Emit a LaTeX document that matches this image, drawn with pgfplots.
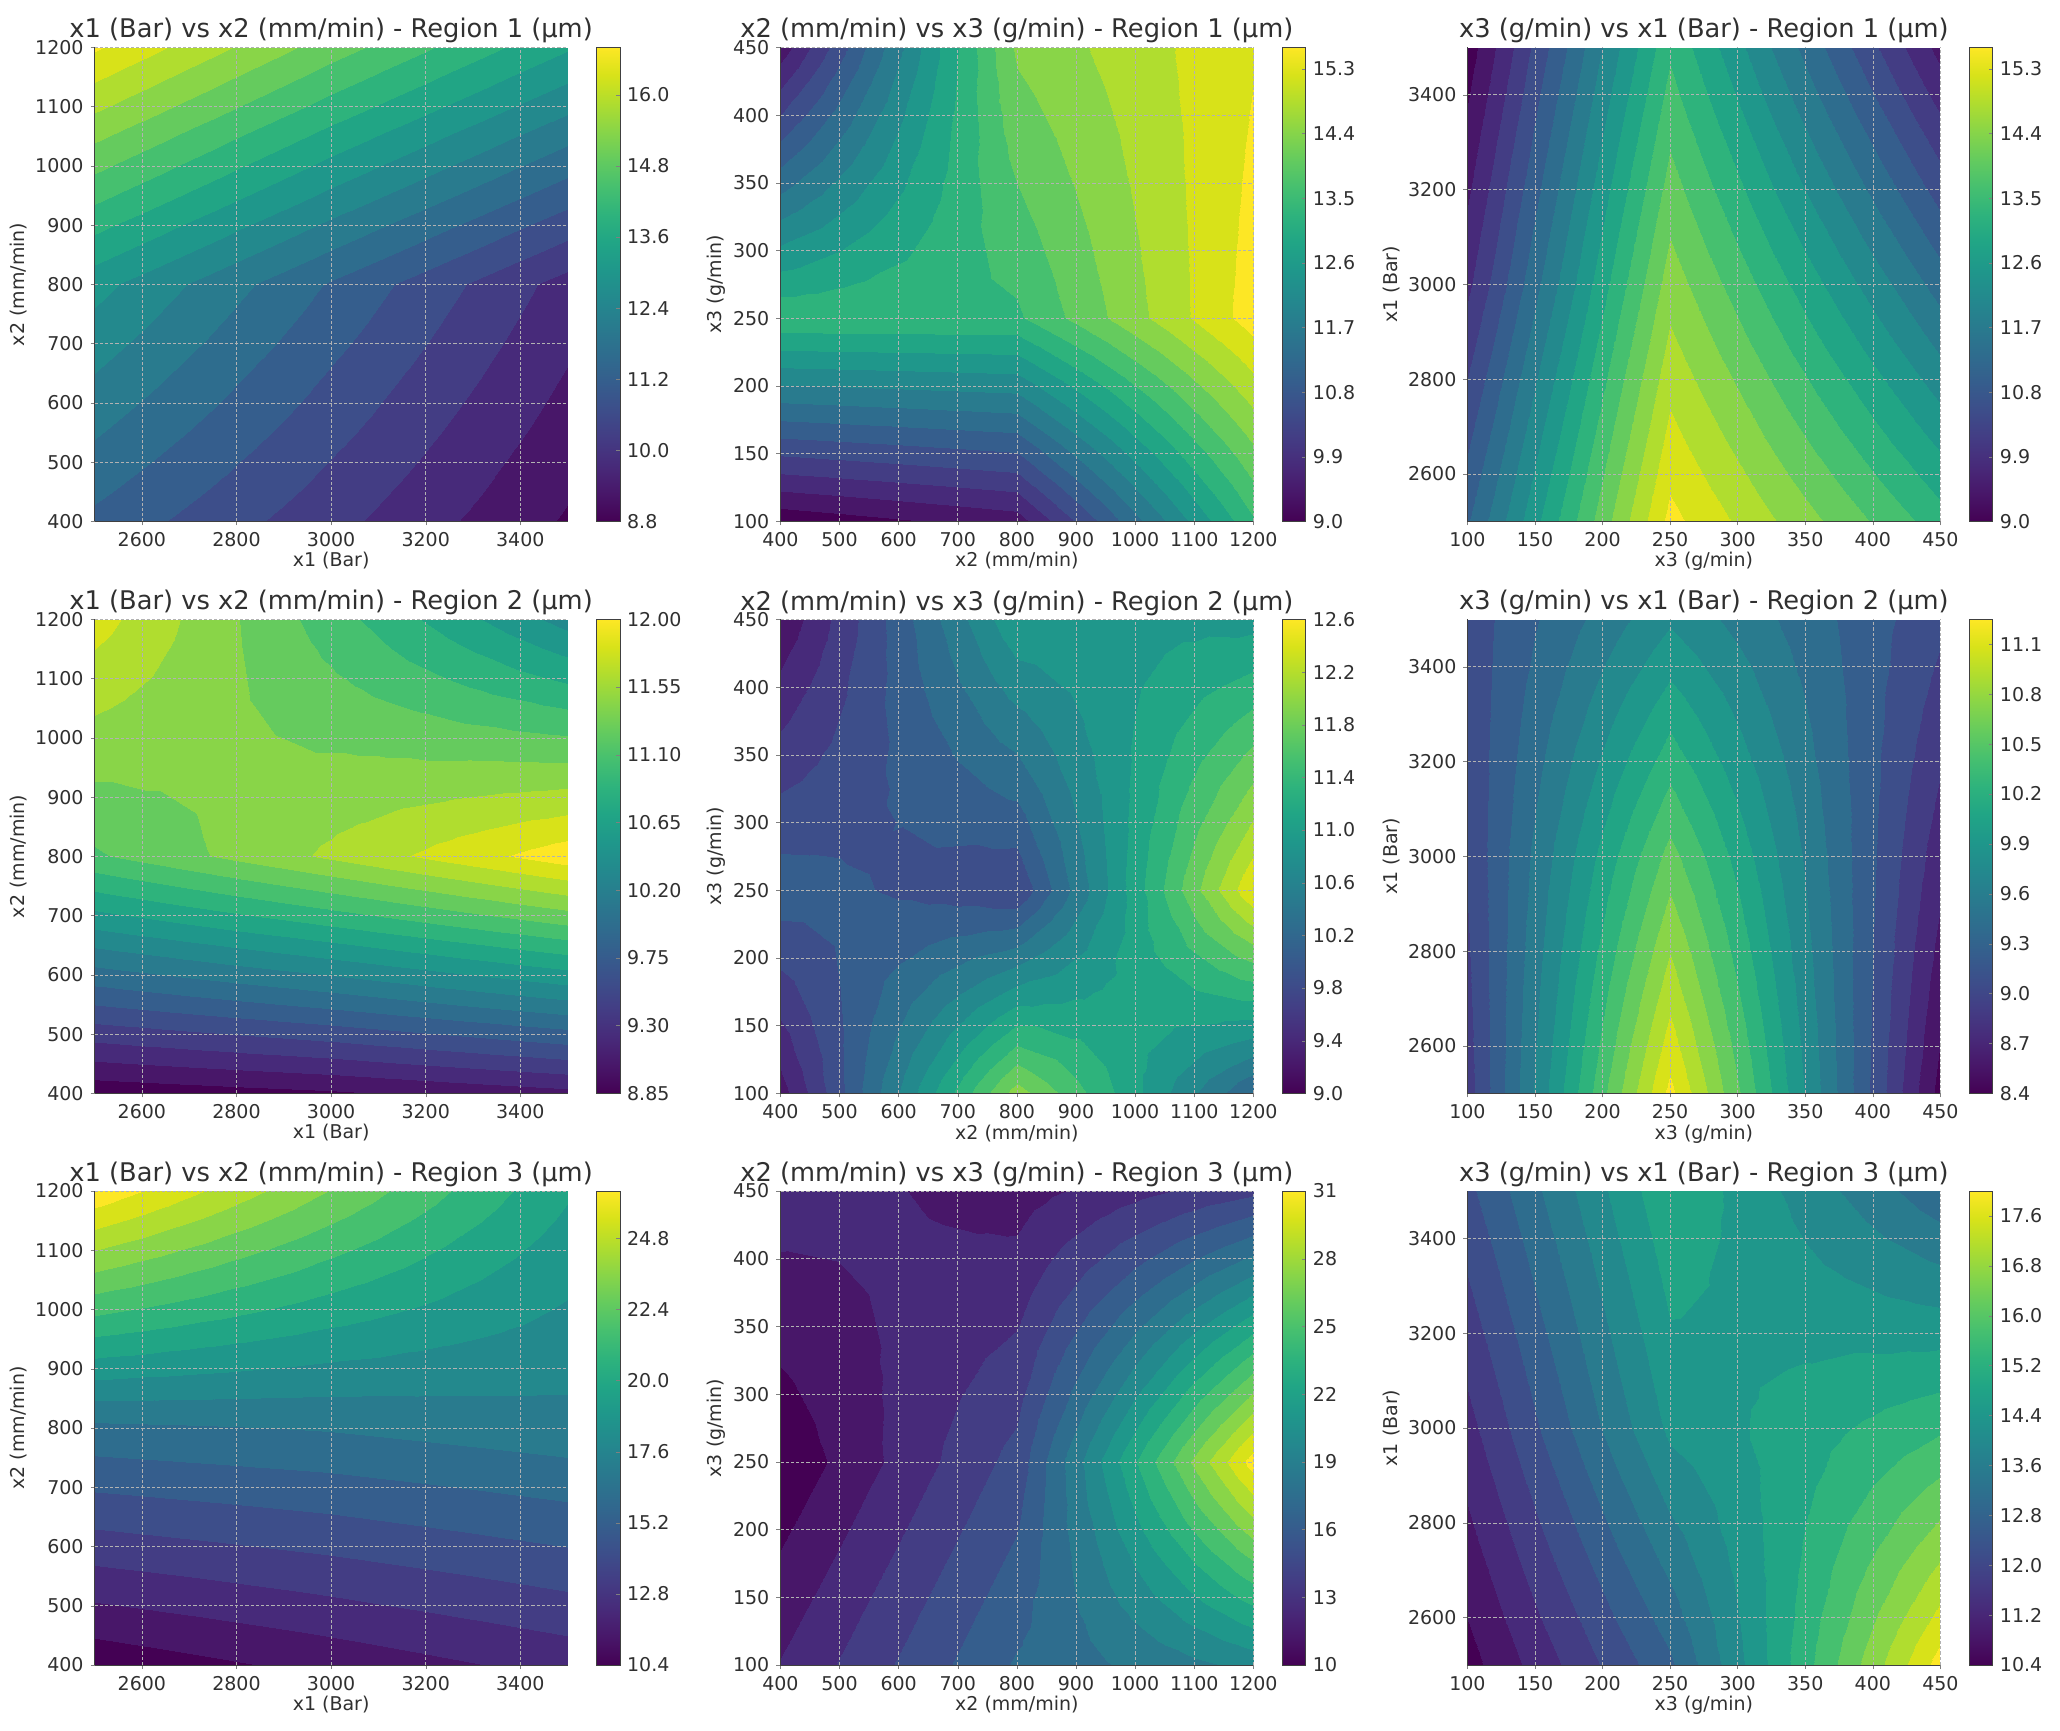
\documentclass[border=0pt]{standalone}
\usepackage{fontspec}
\setmainfont{DejaVu Sans}
\usepackage{pgfplots}
\usepackage{pgfplotstable}
\usepgfplotslibrary{patchplots}
\pgfplotsset{compat=1.18}
\definecolor{txt}{HTML}{303030}
% 3x3 response grids: x y z
\pgfplotstableread{
x y z
2500 400 11.35
3000 400 10.28
3500 400 9.19
2500 800 12.96
3000 800 11.42
3500 800 9.95
2500 1200 16.42
3000 1200 14.8
3500 1200 13.3
}\rAa
\pgfplotstableread{
x y z
400 100 9.1
800 100 9.55
1200 100 13.35
400 250 13.33
800 250 13.34
1200 250 15.42
400 450 9.5
800 450 14.2
1200 450 15.2
}\rAb
\pgfplotstableread{
x y z
100 2500 11.15
250 2500 15.35
450 2500 13.2
100 3000 10.0
250 3000 14.33
450 3000 11.4
100 3500 9.15
250 3500 13.33
450 3500 9.6
}\rAc
\pgfplotstableread{
x y z
2500 400 8.9
3000 400 9.0
3500 400 9.15
2500 800 11.1
3000 800 11.51
3500 800 11.93
2500 1200 11.73
3000 1200 11.03
3500 1200 10.35
}\rBa
\pgfplotstableread{
x y z
400 100 9.3
800 100 11.9
1200 100 10.2
400 250 10.12
800 250 9.82
1200 250 12.38
400 450 9.23
800 450 10.97
1200 450 10.92
}\rBb
\pgfplotstableread{
x y z
100 2500 8.95
250 2500 11.14
450 2500 8.5
100 3000 9.05
250 3000 10.52
450 3000 8.78
100 3500 9.1
250 3500 9.8
450 3500 9.07
}\rBc
\pgfplotstableread{
x y z
2500 400 10.65
3000 400 11.58
3500 400 12.5
2500 800 16.4
3000 800 16.7
3500 800 17.2
2500 1200 26.2
3000 1200 22.8
3500 1200 19.4
}\rCa
\pgfplotstableread{
x y z
400 100 12.4
800 100 17.15
1200 100 19.7
400 250 10.2
800 250 15.1
1200 250 30.4
400 450 12.95
800 450 11.8
1200 450 14.4
}\rCb
\pgfplotstableread{
x y z
100 2500 10.65
250 2500 12.85
450 2500 17.77
100 3000 11.52
250 3000 14.3
450 3000 15.4
100 3500 12.4
250 3500 15.0
450 3500 13.05
}\rCc

\pgfplotsset{
  table/row sep=\\,
  xone/.style={xmin=2500,xmax=3500,xtick={2600,2800,3000,3200,3400},xlabel={x1 (Bar)}},
  xtwo/.style={xmin=400,xmax=1200,xtick={400,500,...,1200},xlabel={x2 (mm/min)}},
  xthree/.style={xmin=100,xmax=450,xtick={100,150,...,450},xlabel={x3 (g/min)}},
  yone/.style={ymin=2500,ymax=3500,ytick={2600,2800,3000,3200,3400},ylabel={x1 (Bar)}},
  ytwo/.style={ymin=400,ymax=1200,ytick={400,500,...,1200},ylabel={x2 (mm/min)}},
  ythree/.style={ymin=100,ymax=450,ytick={100,150,...,450},ylabel={x3 (g/min)}},
  panel/.style={
    scale only axis,width=236.5pt,height=237pt,
    anchor=south west,view={0}{90},axis on top,
    colormap name=viridis,
    title style={font=\fontsize{12.85}{13}\selectfont,text=txt,yshift=-7.5pt},
    label style={font=\fontsize{9.5}{10}\selectfont,text=txt},
    xlabel style={yshift=4pt},ylabel style={yshift=-3pt},
    tick label style={font=\fontsize{9.5}{10}\selectfont,text=txt},
    /pgf/number format/assume math mode=true,
    /pgf/number format/set thousands separator={},
    tick align=outside,major tick length=2pt,
    axis lines*=left,
    grid=major,grid style={dash pattern=on 1.6pt off 1pt,gray!60,line width=0.3pt},
    axis line style={line width=0.5pt,black!75},
    colorbar,
  },
}
% #1 position, #2 axis styles, #3 title, #4 table, #5 levels, #6 min, #7 max, #8 colorbar ticks, #9 decimals
\newcommand\panel[9]{%
\begin{axis}[panel,at={(#1)},#2,title={#3},point meta min=#6,point meta max=#7,
  colorbar style={at={(1.061,0)},anchor=south west,scale only axis,width=11.8pt,height=237pt,
    ytick={#8},ytick pos=right,yticklabel pos=right,major tick length=2pt,grid=none,
    tick label style={font=\fontsize{9.5}{10}\selectfont,text=txt},
    /pgf/number format/fixed,/pgf/number format/fixed zerofill,/pgf/number format/precision=#9,
    /pgf/number format/assume math mode=true,
    axis line style={line width=0.5pt,black!75}}]
\addplot3[contour filled={number=#5},patch,patch type=rectangle,patch refines=3,
  patch table={0 1 4 3\\1 2 5 4\\3 4 7 6\\4 5 8 7\\},point meta=z] table[x=x,y=y,z=z] {#4};
\end{axis}}

\begin{document}
\begin{tikzpicture}
\useasboundingbox (0pt,0pt) rectangle (1030pt,865pt);
\panel{47.3pt,604.3pt}{xone,ytwo}{x1 (Bar) vs x2 (mm/min) - Region 1 (µm)}{\rAa}{20}{8.8}{16.8}{8.8,10.0,11.2,12.4,13.6,14.8,16.0}{1}
\panel{390.2pt,604.3pt}{xtwo,ythree}{x2 (mm/min) vs x3 (g/min) - Region 1 (µm)}{\rAb}{22}{9.0}{15.6}{9.0,9.9,10.8,11.7,12.6,13.5,14.4,15.3}{1}
\panel{733.7pt,604.3pt}{xthree,yone}{x3 (g/min) vs x1 (Bar) - Region 1 (µm)}{\rAc}{22}{9.0}{15.6}{9.0,9.9,10.8,11.7,12.6,13.5,14.4,15.3}{1}
\panel{47.3pt,318.3pt}{xone,ytwo}{x1 (Bar) vs x2 (mm/min) - Region 2 (µm)}{\rBa}{21}{8.85}{12.0}{8.85,9.30,9.75,10.20,10.65,11.10,11.55,12.00}{2}
\panel{390.2pt,318.3pt}{xtwo,ythree}{x2 (mm/min) vs x3 (g/min) - Region 2 (µm)}{\rBb}{18}{9.0}{12.6}{9.0,9.4,9.8,10.2,10.6,11.0,11.4,11.8,12.2,12.6}{1}
\panel{733.7pt,318.3pt}{xthree,yone}{x3 (g/min) vs x1 (Bar) - Region 2 (µm)}{\rBc}{19}{8.4}{11.25}{8.4,8.7,9.0,9.3,9.6,9.9,10.2,10.5,10.8,11.1}{1}
\panel{47.3pt,32.5pt}{xone,ytwo}{x1 (Bar) vs x2 (mm/min) - Region 3 (µm)}{\rCa}{20}{10.4}{26.4}{10.4,12.8,15.2,17.6,20.0,22.4,24.8}{1}
\panel{390.2pt,32.5pt}{xtwo,ythree}{x2 (mm/min) vs x3 (g/min) - Region 3 (µm)}{\rCb}{21}{10}{31}{10,13,16,19,22,25,28,31}{0}
\panel{733.7pt,32.5pt}{xthree,yone}{x3 (g/min) vs x1 (Bar) - Region 3 (µm)}{\rCc}{19}{10.4}{18.0}{10.4,11.2,12.0,12.8,13.6,14.4,15.2,16.0,16.8,17.6}{1}
\end{tikzpicture}
\end{document}
